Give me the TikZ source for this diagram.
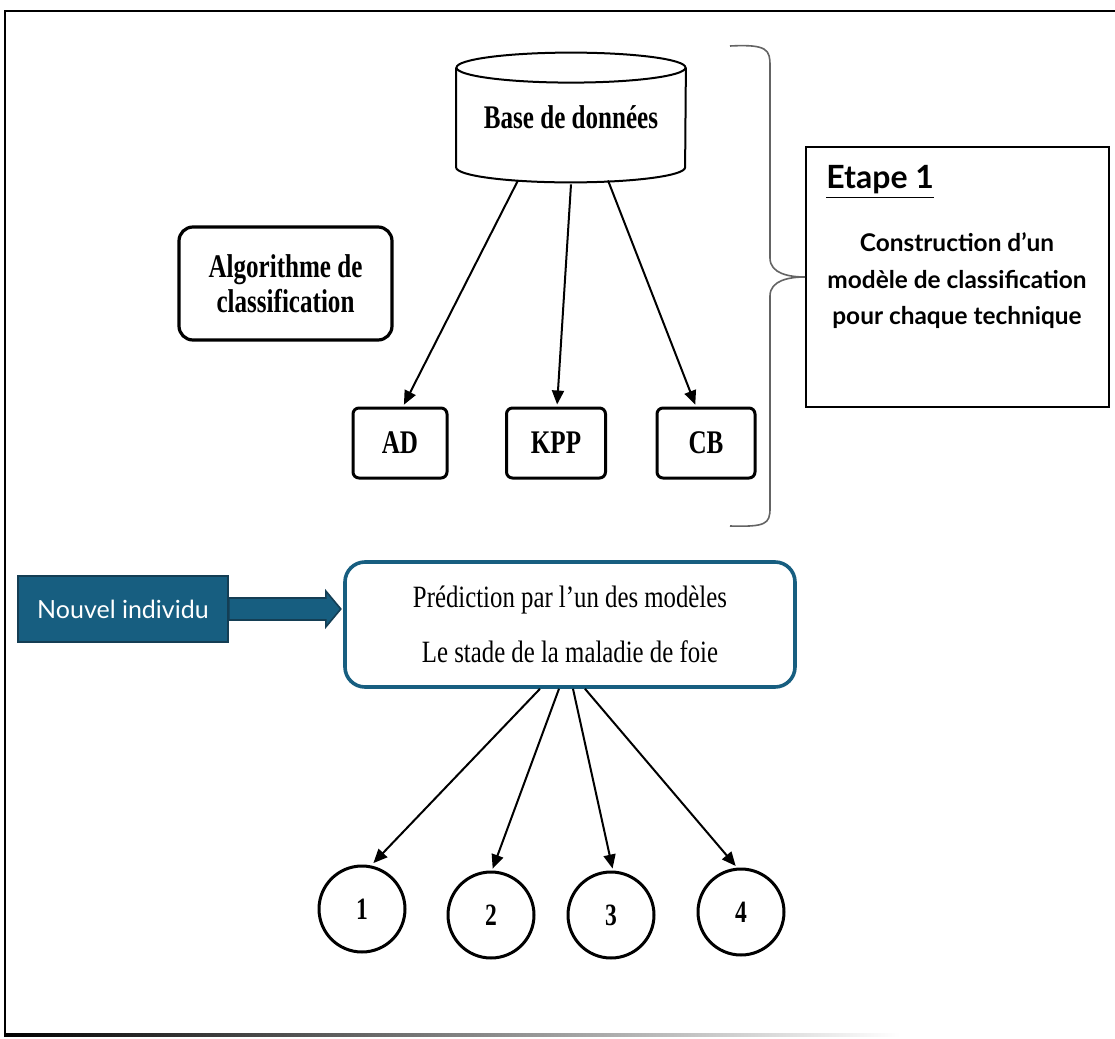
\documentclass[tikz,border=0pt]{standalone}
\usepackage{fontspec}
\setmainfont{Liberation Serif}
\newfontfamily\narrowserif{Liberation Serif}[FakeStretch=0.76]
\newfontfamily\predserif{Liberation Serif}[FakeStretch=0.8]
\newfontfamily\latosans{Lato}
\usetikzlibrary{arrows.meta}
\definecolor{TEAL}{RGB}{23,94,128}
\definecolor{TEALDARK}{RGB}{20,62,84}
\definecolor{BRACEGRAY}{RGB}{100,100,100}
\tikzset{
ARR/.style={draw=black, line width=1pt, -{Triangle[length=7pt,width=6pt]}, shorten >=1pt},
CYL/.style={draw=black, line width=1pt},
BOX/.style={draw=black, line width=1.5pt, rounded corners=3pt, minimum width=#1, minimum height=35pt,
  inner sep=2pt, font=\narrowserif\bfseries\fontsize{16.5}{18}\selectfont},
BOX/.default=47pt,
ALGOBOX/.style={draw=black, line width=1.6pt, rounded corners=7pt, minimum width=106.5pt, minimum height=56.5pt,
  align=center, font=\narrowserif\bfseries\fontsize{16.5}{17.5}\selectfont},
DISK/.style={circle, draw=black, line width=1.5pt, minimum size=43pt, inner sep=0pt,
  font=\narrowserif\bfseries\fontsize{15.5}{16}\selectfont},
PREDBOX/.style={draw=TEAL, line width=1.8pt, rounded corners=10pt, minimum width=225pt, minimum height=62.5pt,
  align=center, font=\predserif\fontsize{15.5}{27.5}\selectfont},
NEWBOX/.style={draw=TEALDARK, fill=TEAL, line width=0.8pt, minimum width=105pt, minimum height=33pt,
  text=white, font=\latosans\fontsize{12.5}{15}\selectfont},
STEPBOX/.style={draw=black, line width=1pt, minimum width=151.5pt, minimum height=130pt},
}
\begin{document}
\begin{tikzpicture}
[x=0.5pt, y=-0.5pt]
	\useasboundingbox (0,0) rectangle (1115,1039);
	% frame
	\draw[line width=1.4pt] (1115,11) -- (5,11) -- (5,1035);
	\shade[left color=black, right color=white] (4,1033.5) rectangle (900,1036.5);
	% step 1
	\node[minimum width=114.5pt, minimum height=64.5pt, font=\narrowserif\bfseries\fontsize{16.5}{18}\selectfont] (db) at (571,117.5) {Base de données};
	\draw[CYL] ([yshift=-7.5pt]db.north) ellipse [x radius=57.25pt, y radius=7.5pt];
	\draw[CYL] ([yshift=-7.5pt]db.north west) -- ([yshift=7.5pt]db.south west)
		arc [start angle=180, end angle=360, x radius=57.25pt, y radius=7.5pt] -- ([yshift=-7.5pt]db.north east);
	\node[ALGOBOX] (algo) at (285.5,283.5) {Algorithme de\\classification};
	\node[BOX] (ad) at (400,443) {AD};
	\node[BOX=49.5pt] (kpp) at (556,443) {KPP};
	\node[BOX=49pt] (cb) at (706,443) {CB};
	\draw[ARR] ([xshift=-26.5pt,yshift=1pt]db.south) -- ([xshift=1.5pt]ad.north);
	\draw[ARR] ([yshift=-1pt]db.south) -- ([xshift=0.5pt]kpp.north);
	\draw[ARR] ([xshift=18.5pt,yshift=1pt]db.south) -- ([xshift=-5pt]cb.north);
	\node[STEPBOX] (etape) at (957.5,277) {};
	\node[anchor=west, inner sep=0pt, font=\latosans\bfseries\fontsize{16}{18}\selectfont] (etitle) at (826,182) {\underline{Etape 1}};
	\node[align=center, font=\latosans\bfseries\fontsize{12.2}{18.25}\selectfont] (edesc) at (957,281) {Construction d’un\\modèle de classification\\pour chaque technique};
	\draw[BRACEGRAY, line width=0.8pt] (730,46) .. controls (768,44) and (770,50) .. (770,66) -- (770,258)
		.. controls (770,274) and (790,277) .. (etape.west) .. controls (790,277) and (770,280) .. (770,296)
		-- (770,508) .. controls (770,524) and (766,527) .. (730,526);
	% prediction
	\node[NEWBOX] (nouvel) at (123,609) {Nouvel individu};
	\node[PREDBOX] (pred) at (570,624.5) {Prédiction par l’un des modèles\\Le stade de la maladie de foie};
	\path (nouvel.east) ++(112,0) coordinate (tip);
	\draw[TEALDARK, fill=TEAL, line width=0.8pt, line join=miter] ([yshift=5.5pt]nouvel.east) -- ([yshift=5.5pt,xshift=-7.5pt]tip)
		-- ([yshift=9pt,xshift=-7.5pt]tip) -- (tip) -- ([yshift=-9pt,xshift=-7.5pt]tip)
		-- ([yshift=-5.5pt,xshift=-7.5pt]tip) -- ([yshift=-5.5pt]nouvel.east) -- cycle;
	\foreach \n/\x/\y in {1/362/909, 2/491/915, 3/611/915, 4/741/912}
		\node[DISK] (c\n) at (\x,\y) {\n};
	\foreach \n/\s/\e in {1/-15/5, 2/-5.5/0.5, 3/1.5/1, 4/7.5/-2}
		\draw[ARR] ([xshift=\s pt]pred.south) -- ([xshift=\e pt]c\n.north);
\end{tikzpicture}
\end{document}
